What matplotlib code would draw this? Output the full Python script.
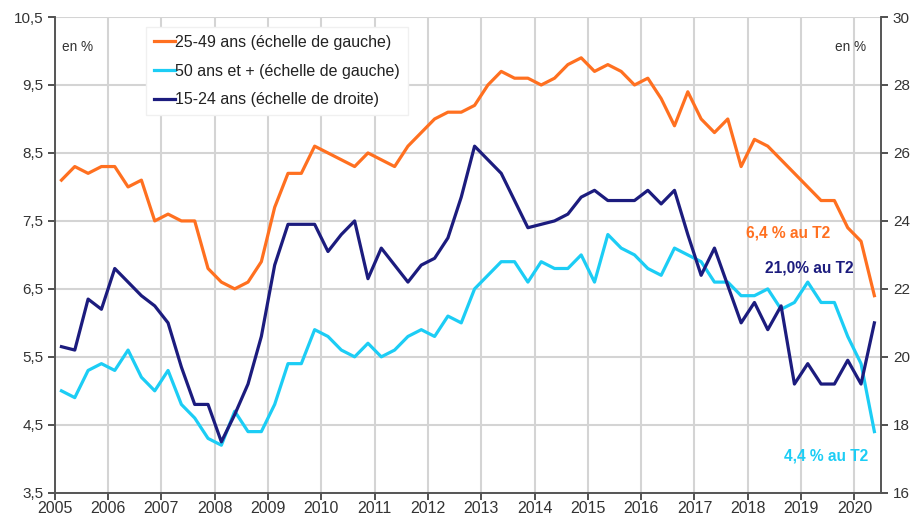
import numpy as np
import matplotlib.pyplot as plt

plt.rcParams["font.family"] = ["Liberation Sans", "DejaVu Sans"]

# quarterly unemployment rates, 2005 Q1 .. 2020 Q2
age_25_49 = [8.1, 8.3, 8.2, 8.3, 8.3, 8.0, 8.1, 7.5, 7.6, 7.5, 7.5, 6.8,
             6.6, 6.5, 6.6, 6.9, 7.7, 8.2, 8.2, 8.6, 8.5, 8.4, 8.3, 8.5,
             8.4, 8.3, 8.6, 8.8, 9.0, 9.1, 9.1, 9.2, 9.5, 9.7, 9.6, 9.6,
             9.5, 9.6, 9.8, 9.9, 9.7, 9.8, 9.7, 9.5, 9.6, 9.3, 8.9, 9.4,
             9.0, 8.8, 9.0, 8.3, 8.7, 8.6, 8.4, 8.2, 8.0, 7.8, 7.8, 7.4,
             7.2, 6.4]
age_50_plus = [5.0, 4.9, 5.3, 5.4, 5.3, 5.6, 5.2, 5.0, 5.3, 4.8, 4.6, 4.3,
               4.2, 4.7, 4.4, 4.4, 4.8, 5.4, 5.4, 5.9, 5.8, 5.6, 5.5, 5.7,
               5.5, 5.6, 5.8, 5.9, 5.8, 6.1, 6.0, 6.5, 6.7, 6.9, 6.9, 6.6,
               6.9, 6.8, 6.8, 7.0, 6.6, 7.3, 7.1, 7.0, 6.8, 6.7, 7.1, 7.0,
               6.9, 6.6, 6.6, 6.4, 6.4, 6.5, 6.2, 6.3, 6.6, 6.3, 6.3, 5.8,
               5.4, 4.4]
age_15_24 = [20.3, 20.2, 21.7, 21.4, 22.6, 22.2, 21.8, 21.5, 21.0, 19.7, 18.6, 18.6,
             17.5, 18.3, 19.2, 20.6, 22.7, 23.9, 23.9, 23.9, 23.1, 23.6, 24.0, 22.3,
             23.2, 22.7, 22.2, 22.7, 22.9, 23.5, 24.7, 26.2, 25.8, 25.4, 24.6, 23.8,
             23.9, 24.0, 24.2, 24.7, 24.9, 24.6, 24.6, 24.6, 24.9, 24.5, 24.9, 23.6,
             22.4, 23.2, 22.1, 21.0, 21.6, 20.8, 21.5, 19.2, 19.8, 19.2, 19.2, 19.9,
             19.2, 21.0]
years = list(range(2005, 2021))
left_ticks = [3.5, 4.5, 5.5, 6.5, 7.5, 8.5, 9.5, 10.5]
right_ticks = list(range(16, 31, 2))

orange = '#ff7020'
cyan = '#1ccdf5'
navy = '#1c1c7e'
txt = '#333333'

x = 2005 + (np.arange(len(age_25_49)) + 0.5) / 4

fig = plt.figure(figsize=(9.13, 5.16), dpi=100)
ax = fig.add_axes([0.060, 0.045, 0.905, 0.922])
ax2 = ax.twinx()

ax.set_xlim(2005, 2020.5)
ax.set_ylim(3.5, 10.5)
ax2.set_ylim(16, 30)

ax.set_xticks(years)
ax.set_xticklabels([str(y) for y in years])
ax.set_yticks(left_ticks)
ax.set_yticklabels([f"{v:.1f}".replace('.', ',') for v in left_ticks])
ax2.set_yticks(right_ticks)

ax.grid(True, color='#d4d4d4', linewidth=1.5)
ax.set_axisbelow(True)
for a in (ax, ax2):
    a.spines['top'].set_visible(False)
    for s in ('left', 'right', 'bottom'):
        a.spines[s].set_color('#555555')
        a.spines[s].set_linewidth(1.2)
    a.tick_params(labelsize=11, colors=txt, length=5, width=1.2)
ax.tick_params(axis='x', labelsize=11.5, pad=1)
ax.tick_params(axis='y', pad=3)

l1, = ax.plot(x, age_25_49, color=orange, lw=2.3, label='25-49 ans (échelle de gauche)', zorder=3)
l2, = ax.plot(x, age_50_plus, color=cyan, lw=2.3, label='50 ans et + (échelle de gauche)', zorder=3)
l3, = ax2.plot(x, age_15_24, color=navy, lw=2.3, label='15-24 ans (échelle de droite)', zorder=3)

leg = ax2.legend(handles=[l1, l2, l3], loc='upper left', bbox_to_anchor=(0.111, 0.979),
                 fontsize=11.5, frameon=True, framealpha=1, edgecolor='#f0f0f0',
                 fancybox=False, handlelength=1.3, handletextpad=0.0,
                 labelspacing=0.85, borderpad=0.5, borderaxespad=0.0)
for t in leg.get_texts():
    t.set_color('#222222')

ax.text(0.009, 0.936, 'en %', transform=ax.transAxes, fontsize=9.8, color=txt, va='center')
ax.text(0.944, 0.936, 'en %', transform=ax.transAxes, fontsize=9.8, color=txt, va='center')

ax.text(2017.97, 7.32, '6,4 % au T2', color=orange, fontsize=11.2, fontweight='bold', va='center')
ax.text(2018.33, 6.81, '21,0% au T2', color=navy, fontsize=11.2, fontweight='bold', va='center')
ax.text(2018.68, 4.04, '4,4 % au T2', color=cyan, fontsize=11.2, fontweight='bold', va='center')

fig.savefig('out.png', dpi=100)
